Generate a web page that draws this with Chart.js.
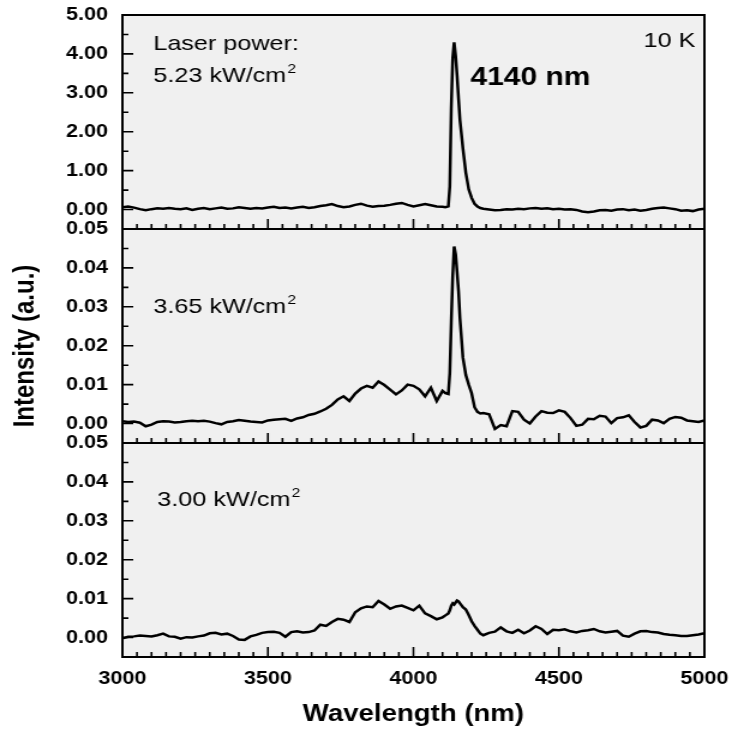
<!DOCTYPE html>
<html><head><meta charset="utf-8">
<script src="https://cdn.jsdelivr.net/npm/chart.js@4/dist/chart.umd.min.js"></script>
<style>
html,body{margin:0;padding:0;background:#fff;overflow:hidden}
canvas{display:block}
</style></head><body>
<canvas id="c" width="610" height="729" style="width:732px;height:729px"></canvas>
<script>
// ---- data ----
const wavelengths = [
  3000,3020,3040,3060,3080,3100,3120,3140,3160,3180,
  3200,3220,3240,3260,3280,3300,3320,3340,3360,3380,
  3400,3420,3440,3460,3480,3500,3520,3540,3560,3580,
  3600,3620,3640,3660,3680,3700,3720,3740,3760,3780,
  3800,3820,3840,3860,3880,3900,3920,3940,3960,3980,
  4000,4020,4040,4060,4080,4100,
  4110,4120,4125,4130,4135,4140,4145,4150,4155,4160,4170,4180,4190,4200,4210,4220,4230,
  4240,4260,4280,4300,4320,4340,4360,4380,4400,4420,
  4440,4460,4480,4500,4520,4540,4560,4580,4600,4620,
  4640,4660,4680,4700,4720,4740,4760,4780,4800,4820,
  4840,4860,4880,4900,4920,4940,4960,4980,5000
];
const intensity523 = [
  0.06,0.08,0.05,0.01,-0.02,0.01,0.03,0.02,0.04,0.02,
  0.01,0.03,-0.01,0.02,0.04,0.01,0.03,0.05,0.02,0.03,
  0.06,0.04,0.02,0.04,0.03,0.05,0.07,0.04,0.05,0.03,
  0.05,0.07,0.04,0.06,0.09,0.11,0.14,0.09,0.06,0.08,
  0.12,0.15,0.10,0.07,0.09,0.10,0.12,0.15,0.17,0.12,
  0.08,0.11,0.14,0.11,0.08,0.07,
  0.06,0.08,0.60,2.60,3.90,4.30,3.95,3.45,2.85,2.30,1.58,0.95,0.52,0.30,0.15,0.08,0.04,
  0.02,0.00,-0.02,-0.01,0.01,0.00,0.02,0.01,0.03,0.04,
  0.02,0.03,0.01,0.02,0.00,0.01,-0.01,-0.05,-0.07,-0.05,
  -0.02,-0.01,-0.03,0.00,0.01,-0.02,0.00,-0.03,-0.01,0.02,
  0.04,0.05,0.03,0.01,-0.03,-0.02,-0.04,0.00,0.02
];
const intensity365 = [
  0.0006,0.0004,0.0005,0.0002,-0.0007,-0.0003,0.0004,0.0006,0.0005,0.0003,
  0.0004,0.0006,0.0007,0.0006,0.0007,0.0005,0.0001,-0.0002,0.0004,0.0006,
  0.0009,0.0007,0.0005,0.0004,0.0003,0.0008,0.0010,0.0011,0.0012,0.0007,
  0.0013,0.0016,0.0022,0.0025,0.0031,0.0038,0.0048,0.0062,0.0070,0.0058,
  0.0077,0.0090,0.0097,0.0092,0.0108,0.0099,0.0087,0.0075,0.0085,0.0100,
  0.0097,0.0088,0.0070,0.0092,0.0058,0.0084,
  0.0078,0.0076,0.0130,0.0260,0.0380,0.0455,0.0435,0.0390,0.0340,0.0270,0.0170,0.0125,0.0100,0.0078,0.0042,0.0030,0.0026,
  0.0027,0.0024,-0.0014,-0.0004,-0.0007,0.0032,0.0030,0.0010,0.0000,0.0018,
  0.0032,0.0028,0.0027,0.0034,0.0030,0.0014,-0.0006,-0.0003,0.0012,0.0011,
  0.0020,0.0018,0.0001,0.0014,0.0016,0.0021,0.0004,-0.0010,-0.0006,0.0010,
  0.0008,0.0001,0.0012,0.0017,0.0015,0.0008,0.0006,0.0004,0.0008
];
const intensity300 = [
  -0.0002,0.0002,0.0003,0.0005,0.0004,0.0003,0.0006,0.0010,0.0003,0.0002,
  -0.0003,0.0001,0.0000,0.0003,0.0005,0.0011,0.0012,0.0008,0.0010,0.0004,
  -0.0005,-0.0006,0.0003,0.0007,0.0012,0.0014,0.0015,0.0012,0.0002,0.0014,
  0.0016,0.0013,0.0014,0.0018,0.0033,0.0030,0.0040,0.0048,0.0046,0.0040,
  0.0065,0.0075,0.0080,0.0078,0.0094,0.0085,0.0074,0.0080,0.0082,0.0076,
  0.0070,0.0082,0.0062,0.0055,0.0047,0.0052,
  0.0057,0.0062,0.0070,0.0082,0.0088,0.0085,0.0090,0.0095,0.0093,0.0088,0.0078,0.0072,0.0058,0.0042,0.0030,0.0020,0.0010,
  0.0006,0.0012,0.0015,0.0026,0.0016,0.0012,0.0020,0.0011,0.0018,0.0029,
  0.0022,0.0009,0.0020,0.0019,0.0021,0.0016,0.0013,0.0017,0.0019,0.0022,
  0.0016,0.0013,0.0015,0.0017,0.0005,0.0002,0.0010,0.0016,0.0017,0.0014,
  0.0013,0.0009,0.0007,0.0006,0.0004,0.0004,0.0006,0.0008,0.0011
];
const xRange = [3000, 5000];
const xMajorStep = 500, xMinorStep = 50;
const topRange = [-0.5, 5.0], topMinorStep = 0.5, topMajorStep = 1;
const lowRange = [-0.005, 0.05], lowMinorStep = 0.005, lowMajorStep = 0.01;
const panelPowers = ['5.23', '3.65', '3.00'];
const xTitle = 'Wavelength (nm)';
const yTitle = 'Intensity (a.u.)';

const FONT = '"Liberation Sans", Arial, sans-serif';
const toPoints = vals => wavelengths.map((w, i) => ({x: w, y: vals[i]}));

function yAxis(range, minor, major) {
  return {
    type: 'linear', position: 'left', stack: 'panels', stackWeight: 1, offset: false,
    min: range[0], max: range[1],
    grid: {display: false, drawTicks: false}, border: {display: false},
    ticks: {
      stepSize: minor, autoSkip: false, color: '#000', padding: 12,
      font: {family: FONT, size: 18, weight: 'bold'},
      callback: v => {
        const k = Math.round(v / minor), r = Math.round(major / minor);
        if (k < 0 || k % r !== 0) return '';
        return (k * minor).toFixed(2);
      }
    },
    afterFit: s => { s.width = 102; s.paddingTop = 0; s.paddingBottom = 0; }
  };
}

const notes = [
  {axis: 'yTop', x: 3106, y: 4.10, text: 'Laser power:', font: '21px ' + FONT, align: 'left'},
  {axis: 'yTop', x: 3106, y: 3.28, text: panelPowers[0] + ' kW/cm', sup: '2', font: '21px ' + FONT, align: 'left'},
  {axis: 'yTop', x: 4969, y: 4.19, text: '10 K', font: '21px ' + FONT, align: 'right'},
  {axis: 'yTop', x: 4196, y: 3.205, text: '4140 nm', font: 'bold 25px ' + FONT, align: 'left'},
  {axis: 'yMid', x: 3106, y: 0.0285, text: panelPowers[1] + ' kW/cm', sup: '2', font: '21px ' + FONT, align: 'left'},
  {axis: 'yBot', x: 3120, y: 0.0339, text: panelPowers[2] + ' kW/cm', sup: '2', font: '21px ' + FONT, align: 'left'}
];

const panelPlugin = {
  id: 'panels',
  beforeDraw(chart) {
    const {ctx, chartArea: a} = chart;
    ctx.save();
    ctx.fillStyle = '#f0f0f0';
    ctx.fillRect(a.left, a.top, a.right - a.left, a.bottom - a.top);
    ctx.restore();
  },
  afterDatasetsDraw(chart) {
    const {ctx, chartArea: a, scales} = chart;
    const xs = scales.x;
    ctx.save();
    ctx.strokeStyle = '#000';
    ctx.lineWidth = 1.6;
    const specs = [['yTop', topMinorStep, topMajorStep], ['yMid', lowMinorStep, lowMajorStep], ['yBot', lowMinorStep, lowMajorStep]];
    for (const [id, minor, major] of specs) {
      const ys = scales[id];
      const r = Math.round(major / minor);
      ctx.beginPath();
      for (let k = Math.ceil(ys.min / minor - 1e-6); k * minor <= ys.max + minor * 1e-6; k++) {
        const p = ys.getPixelForValue(k * minor);
        const len = (k % r === 0) ? 9 : 5;
        ctx.moveTo(a.left, p); ctx.lineTo(a.left + len, p);
      }
      for (let k = Math.ceil(xs.min / xMinorStep); k * xMinorStep <= xs.max + 1e-6; k++) {
        const v = k * xMinorStep;
        const px = xs.getPixelForValue(v);
        const len = (v % xMajorStep === 0) ? 10 : 5;
        ctx.moveTo(px, ys.bottom); ctx.lineTo(px, ys.bottom - len);
      }
      ctx.stroke();
    }
    ctx.lineWidth = 2;
    for (const [id] of specs) {
      const ys = scales[id];
      ctx.strokeRect(a.left, ys.top, a.right - a.left, ys.bottom - ys.top);
    }
    ctx.restore();
  },
  afterDraw(chart) {
    const {ctx, chartArea: a, scales} = chart;
    ctx.save();
    ctx.fillStyle = '#000';
    ctx.textBaseline = 'alphabetic';
    for (const n of notes) {
      const px = scales.x.getPixelForValue(n.x);
      const py = scales[n.axis].getPixelForValue(n.y);
      ctx.font = n.font;
      ctx.textAlign = n.align;
      ctx.fillText(n.text, px, py);
      if (n.sup) {
        const w = ctx.measureText(n.text).width;
        ctx.font = '13px ' + FONT;
        ctx.textAlign = 'left';
        ctx.fillText(n.sup, px + w + 1, py - 9);
      }
    }
    ctx.font = 'bold 24px ' + FONT;
    ctx.textAlign = 'center';
    ctx.textBaseline = 'middle';
    ctx.translate(21, (a.top + a.bottom) / 2 + 10);
    ctx.rotate(-Math.PI / 2);
    ctx.fillText(yTitle, 0, 0);
    ctx.restore();
  }
};

new Chart(document.getElementById('c'), {
  type: 'line',
  data: {
    datasets: [
      {data: toPoints(intensity523), yAxisID: 'yTop'},
      {data: toPoints(intensity365), yAxisID: 'yMid'},
      {data: toPoints(intensity300), yAxisID: 'yBot'}
    ].map(d => Object.assign(d, {borderColor: '#000', borderWidth: 2.5, pointRadius: 0, tension: 0, fill: false}))
  },
  options: {
    responsive: false, animation: false, devicePixelRatio: 1,
    layout: {padding: {left: 0, right: 23, top: 15, bottom: 1}},
    plugins: {legend: {display: false}, tooltip: {enabled: false}},
    scales: {
      x: {
        type: 'linear', min: xRange[0], max: xRange[1],
        grid: {display: false, drawTicks: false}, border: {display: false},
        ticks: {stepSize: xMajorStep, autoSkip: false, maxRotation: 0, color: '#000', padding: 11,
                font: {family: FONT, size: 18, weight: 'bold'}, callback: v => String(v)},
        title: {display: true, text: xTitle, color: '#000', padding: {top: 10, bottom: 0},
                font: {family: FONT, size: 23, weight: 'bold'}},
        afterFit: s => { s.paddingLeft = 0; s.paddingRight = 0; s.height = 71; }
      },
      yBot: yAxis(lowRange, lowMinorStep, lowMajorStep),
      yMid: yAxis(lowRange, lowMinorStep, lowMajorStep),
      yTop: yAxis(topRange, topMinorStep, topMajorStep)
    }
  },
  plugins: [panelPlugin]
});
</script>
</body></html>
